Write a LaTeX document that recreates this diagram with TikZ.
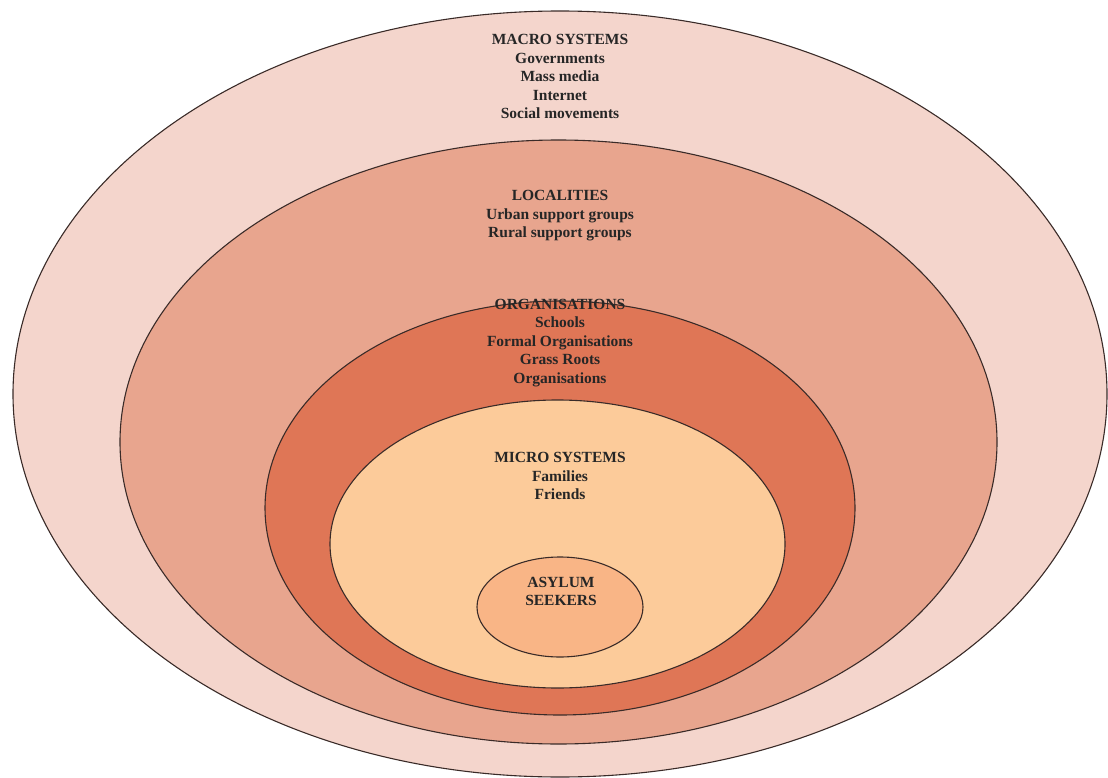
\documentclass[tikz,border=0pt]{standalone}
\usepackage{fontspec}
\setmainfont{Liberation Serif}
\usepackage{tikz}
\definecolor{macrocol}{HTML}{F4D5CC}
\definecolor{localcol}{HTML}{E8A58E}
\definecolor{orgcol}{HTML}{DF7656}
\definecolor{microcol}{HTML}{FCCB9A}
\definecolor{asylcol}{HTML}{F9B586}
\definecolor{ringline}{HTML}{3A2B28}
\tikzset{
  ring/.style={draw=ringline,line width=1.1pt},
  lbl/.style={align=center,font=\fontsize{15.5}{18.5}\selectfont\bfseries,text=black!85,inner sep=0pt}
}
\begin{document}
\begin{tikzpicture}[x=1pt,y=-1pt]
\useasboundingbox (0,0) rectangle (1108,778);
% rings, outside in
\draw[ring,fill=macrocol] (560,394) ellipse [x radius=547,y radius=383];
\draw[ring,fill=localcol] (558.5,442) ellipse [x radius=438.5,y radius=302];
\draw[ring,fill=orgcol] (560,508) ellipse [x radius=295,y radius=207];
\draw[ring,fill=microcol] (557.5,544) ellipse [x radius=227.5,y radius=144];
\draw[ring,fill=asylcol] (560,607) ellipse [x radius=83,y radius=50];
% labels
\node[lbl] (macro) at (560,76.5) {MACRO SYSTEMS\\Governments\\Mass media\\Internet\\Social movements};
\node[lbl] (local) at (560,216) {LOCALITIES\\Urban support groups\\Rural support groups};
\node[lbl] (org) at (560,343) {ORGANISATIONS\\Schools\\Formal Organisations\\Grass Roots\\Organisations};
\node[lbl] (micro) at (560,476) {MICRO SYSTEMS\\Families\\Friends};
\node[lbl] (asyl) at (561,591.5) {ASYLUM\\SEEKERS};
\end{tikzpicture}
\end{document}
